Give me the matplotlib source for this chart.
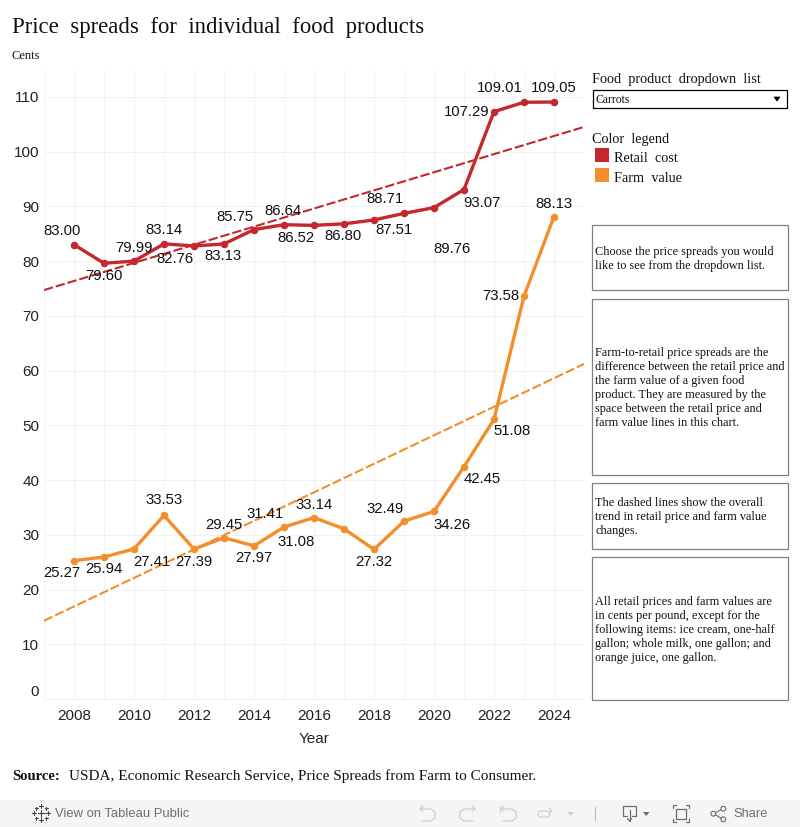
import matplotlib
matplotlib.use("Agg")
import matplotlib.pyplot as plt
from matplotlib.patches import Rectangle, Polygon, Circle, FancyBboxPatch

years = list(range(2008, 2025))
retail = [83.00, 79.60, 79.99, 83.14, 82.76, 83.13, 85.75, 86.64, 86.52, 86.80,
          87.51, 88.71, 89.76, 93.07, 107.29, 109.01, 109.05]
farm = [25.27, 25.94, 27.41, 33.53, 27.39, 29.45, 27.97, 31.41, 33.14, 31.08,
        27.32, 32.49, 34.26, 42.45, 51.08, 73.58, 88.13]

trend_x = [2007, 2025]
retail_trend = [74.7, 104.5]
farm_trend = [14.3, 61.2]

yticks = list(range(0, 120, 10))
xticks = list(range(2008, 2026, 2))

RED = "#c4272d"
ORANGE = "#f28e2b"
SANS = "Liberation Sans"
SERIF = "Liberation Serif"

# label offsets in pixels from each point
retail_off = [(-12, 14), (0, -13), (0, 13), (0, 14), (-19, -13), (-1, -12), (-19, 13),
              (-1, 14), (-18, -13), (-1, -12), (20, -10), (-19, 14), (18, -41),
              (18, -13), (-27, 0), (-24, 14), (0, 14)]
farm_off = [(-12, -12), (0, -12), (18, -13), (0, 15), (0, -13), (0, 13), (0, -12),
            (-19, 13), (0, 13), (-48, -13), (0, -13), (-19, 12), (18, -14),
            (18, -12), (18, -12), (-23, 0), (0, 13)]

fig = plt.figure(figsize=(8.0, 8.27), dpi=100)
W, H = 800, 827


def rect(left, top, right, bottom):
    return [left / W, 1 - bottom / H, (right - left) / W, (bottom - top) / H]


ax = fig.add_axes(rect(44, 70, 584, 699))
ax.set_xlim(2007, 2025)
ax.set_ylim(0, 114.9)

ax.set_xticks(xticks)
ax.set_yticks(yticks)
ax.set_xticks(range(2007, 2026, 2), minor=True)
ax.grid(True, which="major", color="#f2f2f2", lw=0.7)
ax.grid(True, which="minor", axis="x", color="#f2f2f2", lw=0.7)
ax.set_axisbelow(True)
for s in ax.spines.values():
    s.set_visible(False)
ax.spines["bottom"].set_visible(True)
ax.spines["bottom"].set_color("#f0f0f0")
ax.spines["bottom"].set_linewidth(0.7)
ax.tick_params(which="both", length=0)
ax.tick_params(axis="x", labelsize=11, labelcolor="#222222", pad=7.5)
ax.tick_params(axis="y", labelsize=11, labelcolor="#222222", pad=3.5)
for t in ax.get_xticklabels() + ax.get_yticklabels():
    t.set_family(SANS)
# the zero label sits a little above the baseline
ax.get_yticklabels()[0].set_verticalalignment("bottom")
ax.set_xlabel("Year", family=SANS, fontsize=11, color="#222222", labelpad=6)

ax.plot(trend_x, retail_trend, color=RED, lw=1.5, dashes=(4.5, 1.4))
ax.plot(trend_x, farm_trend, color=ORANGE, lw=1.5, dashes=(4.5, 1.4))
ax.plot(years, retail, color=RED, lw=2.4, marker="o", ms=4.4)
ax.plot(years, farm, color=ORANGE, lw=2.4, marker="o", ms=4.4)

for series, offsets in ((retail, retail_off), (farm, farm_off)):
    for x, y, off in zip(years, series, offsets):
        ax.annotate(f"{y:.2f}", (x, y), xytext=off, textcoords="offset pixels",
                    ha="center", va="center", family=SANS, fontsize=10.7, color="#111111")

# page furniture drawn in pixel coordinates
page = fig.add_axes([0, 0, 1, 1], zorder=5)
page.set_xlim(0, W)
page.set_ylim(H, 0)
page.axis("off")


def txt(x, y, s, size=8, **kw):
    kw.setdefault("family", SERIF)
    kw.setdefault("color", "#111111")
    kw.setdefault("va", "center")
    page.text(x, y, s, fontsize=size, **kw)


def stroke(xs, ys, color, lw=0.9):
    page.plot(xs, ys, color=color, lw=lw, solid_capstyle="round", solid_joinstyle="round")


txt(12, 27, "Price  spreads  for  individual  food  products", 16.4)
txt(12, 56, "Cents", 9)

txt(592, 79, "Food  product  dropdown  list", 10.3)
page.add_patch(Rectangle((593, 89.5), 193.5, 18, fc="white", ec="black", lw=0.9))
txt(596, 100, "Carrots", 8.4)
page.add_patch(Polygon([(774, 97), (780, 97), (777, 101)], fc="black", ec="black", lw=0.5))

txt(592, 139, "Color  legend", 10.3)
page.add_patch(Rectangle((595, 148), 14, 14, fc=RED, ec="none"))
page.add_patch(Rectangle((595, 168), 14, 14, fc=ORANGE, ec="none"))
txt(614, 159, "Retail  cost", 10.3)
txt(614, 179, "Farm  value", 10.3)

boxes = [
    (225, 290, ["Choose the price spreads you would", "like to see from the dropdown list."]),
    (299, 475, ["Farm-to-retail price spreads are the", "difference between the retail price and",
                "the farm value of a given food", "product. They are measured by the",
                "space between the retail price and", "farm value lines in this chart."]),
    (483, 549, ["The dashed lines show the overall", "trend in retail price and farm value",
                "changes."]),
    (557, 700, ["All retail prices and farm values are", "in cents per pound, except for the",
                "following items: ice cream, one-half", "gallon; whole milk, one gallon; and",
                "orange juice, one gallon."]),
]
line_gap = 14
for top, bottom, lines in boxes:
    page.add_patch(Rectangle((592, top), 195.5, bottom - top, fc="white", ec="#808080", lw=0.9))
    y0 = (top + bottom) / 2 - (len(lines) - 1) * line_gap / 2 + 1
    for i, line in enumerate(lines):
        txt(595, y0 + i * line_gap, line, 8.85)

txt(12, 776, "Source:", 10.5, fontweight="bold")
txt(69, 776, "USDA, Economic Research Service, Price Spreads from Farm to Consumer.", 11)

# toolbar strip
page.add_patch(Rectangle((0, 800), W, 27, fc="#f5f5f5", ec="none"))
txt(55, 814, "View on Tableau Public", 9.4, family=SANS, color="#6e6e6e")
txt(733, 814, "Share", 9.3, family=SANS, color="#6e6e6e")

# tableau cross logo
for cx, cy, r in [(41, 813, 3.5), (34, 813, 2), (48, 813, 2), (41, 806, 2), (41, 820, 2),
                  (36, 808, 1.5), (46, 808, 1.5), (36, 818, 1.5), (46, 818, 1.5)]:
    stroke([cx - r, cx + r], [cy, cy], "#444444", 0.8)
    stroke([cx, cx], [cy - r, cy + r], "#444444", 0.8)

# greyed undo / redo / reset / pause icons
grey = "#cfcfcf"
stroke([420, 431, 435, 435, 431, 422], [809, 809, 812, 818, 821, 821], grey)
stroke([423, 420, 423], [806, 809, 811], grey)
stroke([475, 464, 460, 460, 464, 473], [809, 809, 812, 818, 821, 821], grey)
stroke([472, 475, 472], [806, 809, 811], grey)
stroke([501, 512, 516, 516, 512, 503], [809, 809, 812, 818, 821, 821], grey)
stroke([500, 500], [806, 812], grey)
stroke([504, 501, 504], [806, 809, 811], grey)
page.add_patch(FancyBboxPatch((538, 811), 12, 6, boxstyle="round,pad=0,rounding_size=3",
                              fc="none", ec=grey, lw=0.9))
stroke([549, 552, 549], [808, 811, 813], grey)
page.add_patch(Polygon([(567, 812), (574, 812), (570.5, 816)], fc=grey, ec="none"))
stroke([595, 595], [807, 820], "#bbbbbb", 0.8)

# download / fullscreen / share icons
dark = "#6e6e6e"
stroke([627, 623, 623, 636, 636, 632], [816, 816, 806, 806, 816, 816], dark)
stroke([629.5, 629.5], [810, 821], dark)
stroke([627.5, 629.5, 631.5], [818.5, 821, 818.5], dark)
page.add_patch(Polygon([(643, 812), (649.5, 812), (646.2, 816)], fc=dark, ec="none"))
page.add_patch(Rectangle((676, 809), 10, 10, fc="none", ec=dark, lw=0.9))
for cx, sx in ((673, 1), (689, -1)):
    for cy, sy in ((805, 1), (822, -1)):
        stroke([cx + 3 * sx, cx, cx], [cy, cy, cy + 3 * sy], dark)
stroke([723.3, 713.3, 723.3], [808.7, 813.7, 819.3], dark, 0.8)
for c in [(723.3, 808.7), (713.3, 813.7), (723.3, 819.3)]:
    page.add_patch(Circle(c, 2.4, fc="#f5f5f5", ec=dark, lw=0.8, zorder=6))

fig.savefig("out.png", dpi=100)
